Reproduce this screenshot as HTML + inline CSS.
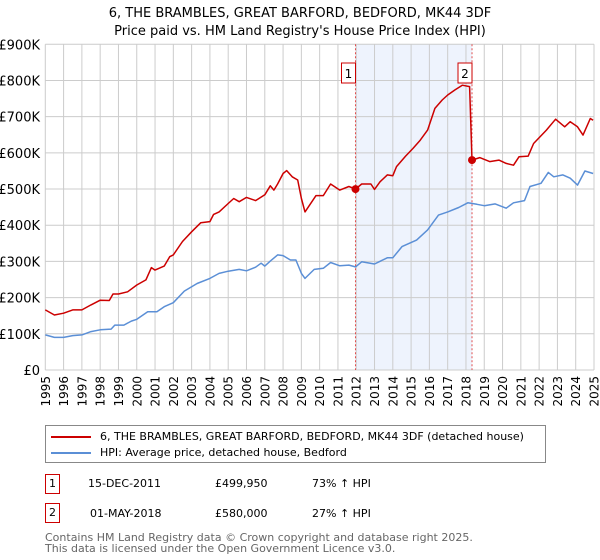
<!DOCTYPE html>
<html><head><meta charset="utf-8"><style>
body{margin:0;background:#fff;font-family:"Liberation Sans","DejaVu Sans",sans-serif;}
#wrap{position:relative;width:600px;height:560px;overflow:hidden;}
svg text{font-family:"DejaVu Sans","Liberation Sans",sans-serif;}
.nw{white-space:nowrap;}
</style></head><body>
<div id="wrap">
<svg id="chart" width="600" height="560"></svg>
</div>
<script>
const yTicks=[0,100,200,300,400,500,600,700,800,900];
const yTickLabels=["£0","£100K","£200K","£300K","£400K","£500K","£600K","£700K","£800K","£900K"];
const xYears=[1995,1996,1997,1998,1999,2000,2001,2002,2003,2004,2005,2006,2007,2008,2009,2010,2011,2012,2013,2014,2015,2016,2017,2018,2019,2020,2021,2022,2023,2024,2025];
const redYears=[1995,1995.5,1996,1996.5,1997,1997.5,1998,1998.5,1998.7,1999,1999.5,2000,2000.5,2000.8,2001,2001.5,2001.8,2002,2002.5,2003,2003.5,2004,2004.2,2004.5,2005,2005.3,2005.6,2006,2006.5,2007,2007.3,2007.5,2007.7,2008,2008.2,2008.5,2008.8,2009,2009.2,2009.8,2010.2,2010.6,2011.1,2011.6,2011.96,2012.3,2012.8,2013,2013.3,2013.7,2014,2014.2,2014.7,2015.1,2015.5,2015.9,2016.3,2016.7,2017,2017.4,2017.8,2018.2,2018.33,2018.75,2019.3,2019.8,2020.2,2020.6,2020.9,2021.4,2021.7,2022.4,2022.9,2023.4,2023.7,2024.1,2024.4,2024.8,2024.95];
const redValues=[166,152,157,166,166,180,193,192,210,210,216,235,249,283,276,287,313,318,355,382,407,410,430,437,460,474,465,477,468,484,509,497,514,543,551,534,525,474,437,482,482,514,497,507,499.95,514,514,499,520,539,537,562,591,612,635,663,723,746,760,774,787,783,580,587,576,580,571,566,589,591,626,663,693,672,686,672,649,695,690];
const blueYears=[1995,1995.5,1996,1996.5,1997,1997.5,1998,1998.6,1998.8,1999.3,1999.7,2000,2000.6,2001.1,2001.5,2002,2002.6,2003.3,2004,2004.5,2005,2005.6,2006,2006.5,2006.8,2007,2007.3,2007.7,2008,2008.4,2008.7,2009,2009.2,2009.7,2010.2,2010.6,2011.1,2011.6,2011.96,2012.3,2013,2013.7,2014,2014.5,2015.3,2015.9,2016.5,2017,2017.6,2018.1,2018.6,2019,2019.6,2020.2,2020.6,2021.2,2021.5,2022.1,2022.5,2022.8,2023.3,2023.7,2024.1,2024.5,2024.95];
const blueValues=[97,90,90,95,97,106,111,113,124,124,135,140,161,161,175,186,218,239,253,267,273,278,274,284,295,287,301,318,316,304,304,267,253,278,281,297,288,290,285,299,293,310,310,341,359,387,428,437,449,462,458,454,459,447,462,468,507,516,546,534,539,530,511,550,543];
const saleYears=[2011.96,2018.33];
const saleValues=[499.95,580];
const saleLabels=["1","2"];

const NS="http://www.w3.org/2000/svg";
const svg=document.getElementById('chart');
const X0=45.3,X1=594,Y0=370,Y1=44.3;
const xS=y=>X0+(y-1995)/30*(X1-X0);
const yS=v=>Y0-v/900*(Y0-Y1);
function mk(tag,attrs,parent){const e=document.createElementNS(NS,tag);for(const k in attrs)e.setAttribute(k,attrs[k]);(parent||svg).appendChild(e);return e;}
function txt(s,attrs,parent){const e=mk('text',attrs,parent);e.textContent=s;return e;}

let t=txt("6, THE BRAMBLES, GREAT BARFORD, BEDFORD, MK44 3DF",{x:300,y:17,'text-anchor':'middle','font-size':13,fill:'#000'});


t=txt("Price paid vs. HM Land Registry's House Price Index (HPI)",{x:300,y:35,'text-anchor':'middle','font-size':13,fill:'#000'});



let r=mk('rect',{x:xS(saleYears[0]),y:Y1,width:xS(saleYears[1])-xS(saleYears[0]),height:Y0-Y1,fill:'#eef3fd'});



yTicks.forEach((v,i)=>{
 const l=mk('line',{x1:X0,x2:X1,y1:yS(v),y2:yS(v),stroke:'#cccccc','stroke-width':1});
 
 
 const tl=txt(yTickLabels[i],{x:40,y:yS(v)+5,'text-anchor':'end','font-size':13,fill:'#000'});
 
 
});
xYears.forEach(y=>{
 const l=mk('line',{x1:xS(y),x2:xS(y),y1:Y1,y2:Y0,stroke:'#cccccc','stroke-width':1});
 
 
 const tl=txt(String(y),{x:0,y:0,'text-anchor':'end','font-size':12,fill:'#000',transform:`translate(${xS(y)+4.5},376) rotate(-90)`});
 
 
});
saleYears.forEach((y,i)=>{
 const l=mk('line',{x1:xS(y),x2:xS(y),y1:Y1,y2:Y0,stroke:'#e05050','stroke-width':1,'stroke-dasharray':'2,2'});
 
 
});

function poly(xs,vs,color,name){
 const p=mk('polyline',{points:xs.map((y,i)=>xS(y).toFixed(1)+','+yS(vs[i]).toFixed(1)).join(' '),fill:'none',stroke:color,'stroke-width':1.5,'stroke-linejoin':'round'});
 
 
}
poly(blueYears,blueValues,'#5b8fd6','hpi-line');
poly(redYears,redValues,'#cc0000','price-paid-line');

saleYears.forEach((y,i)=>{
 const c=mk('circle',{cx:xS(y),cy:yS(saleValues[i]),r:4,fill:'#cc0000'});
 
 
 const g=mk('g',{});
 
 
 mk('rect',{x:xS(y)-14,y:63,width:14,height:20,fill:'#fff',stroke:'#cc0000','stroke-width':1},g);
 txt(saleLabels[i],{x:xS(y)-7,y:78,'text-anchor':'middle','font-size':12,fill:'#000'},g);
});
</script>
<div style="position:absolute;left:45px;top:425px;width:499px;height:36px;border:1px solid #888;background:#fff;font-size:11px;font-family:'DejaVu Sans','Liberation Sans',sans-serif;">
 <div class="nw" style="position:absolute;left:5px;top:4px;"><span style="display:inline-block;width:40px;height:2px;background:#cc0000;vertical-align:middle;margin-right:9px;"></span>6, THE BRAMBLES, GREAT BARFORD, BEDFORD, MK44 3DF (detached house)</div>
 <div class="nw" style="position:absolute;left:5px;top:20px;"><span style="display:inline-block;width:40px;height:2px;background:#5b8fd6;vertical-align:middle;margin-right:9px;"></span>HPI: Average price, detached house, Bedford</div>
</div>
<div style="position:absolute;left:0;top:0;font-size:11px;font-family:'DejaVu Sans','Liberation Sans',sans-serif;">
 <div>
  <div style="position:absolute;left:45px;top:474px;width:13px;height:18px;border:1px solid #cc0000;text-align:center;line-height:18px;">1</div>
  <div class="nw" style="position:absolute;left:88px;top:477px;">15-DEC-2011</div>
  <div class="nw" style="position:absolute;left:215px;top:477px;">£499,950</div>
  <div class="nw" style="position:absolute;left:312px;top:477px;">73% ↑ HPI</div>
 </div>
 <div>
  <div style="position:absolute;left:45px;top:503px;width:13px;height:18px;border:1px solid #cc0000;text-align:center;line-height:18px;">2</div>
  <div class="nw" style="position:absolute;left:90px;top:507px;">01-MAY-2018</div>
  <div class="nw" style="position:absolute;left:215px;top:507px;">£580,000</div>
  <div class="nw" style="position:absolute;left:312px;top:507px;">27% ↑ HPI</div>
 </div>
</div>
<div class="nw" style="position:absolute;left:45px;top:532px;font-size:11px;line-height:11px;color:#666;font-family:'DejaVu Sans','Liberation Sans',sans-serif;">Contains HM Land Registry data © Crown copyright and database right 2025.<br>This data is licensed under the Open Government Licence v3.0.</div>
</body></html>
